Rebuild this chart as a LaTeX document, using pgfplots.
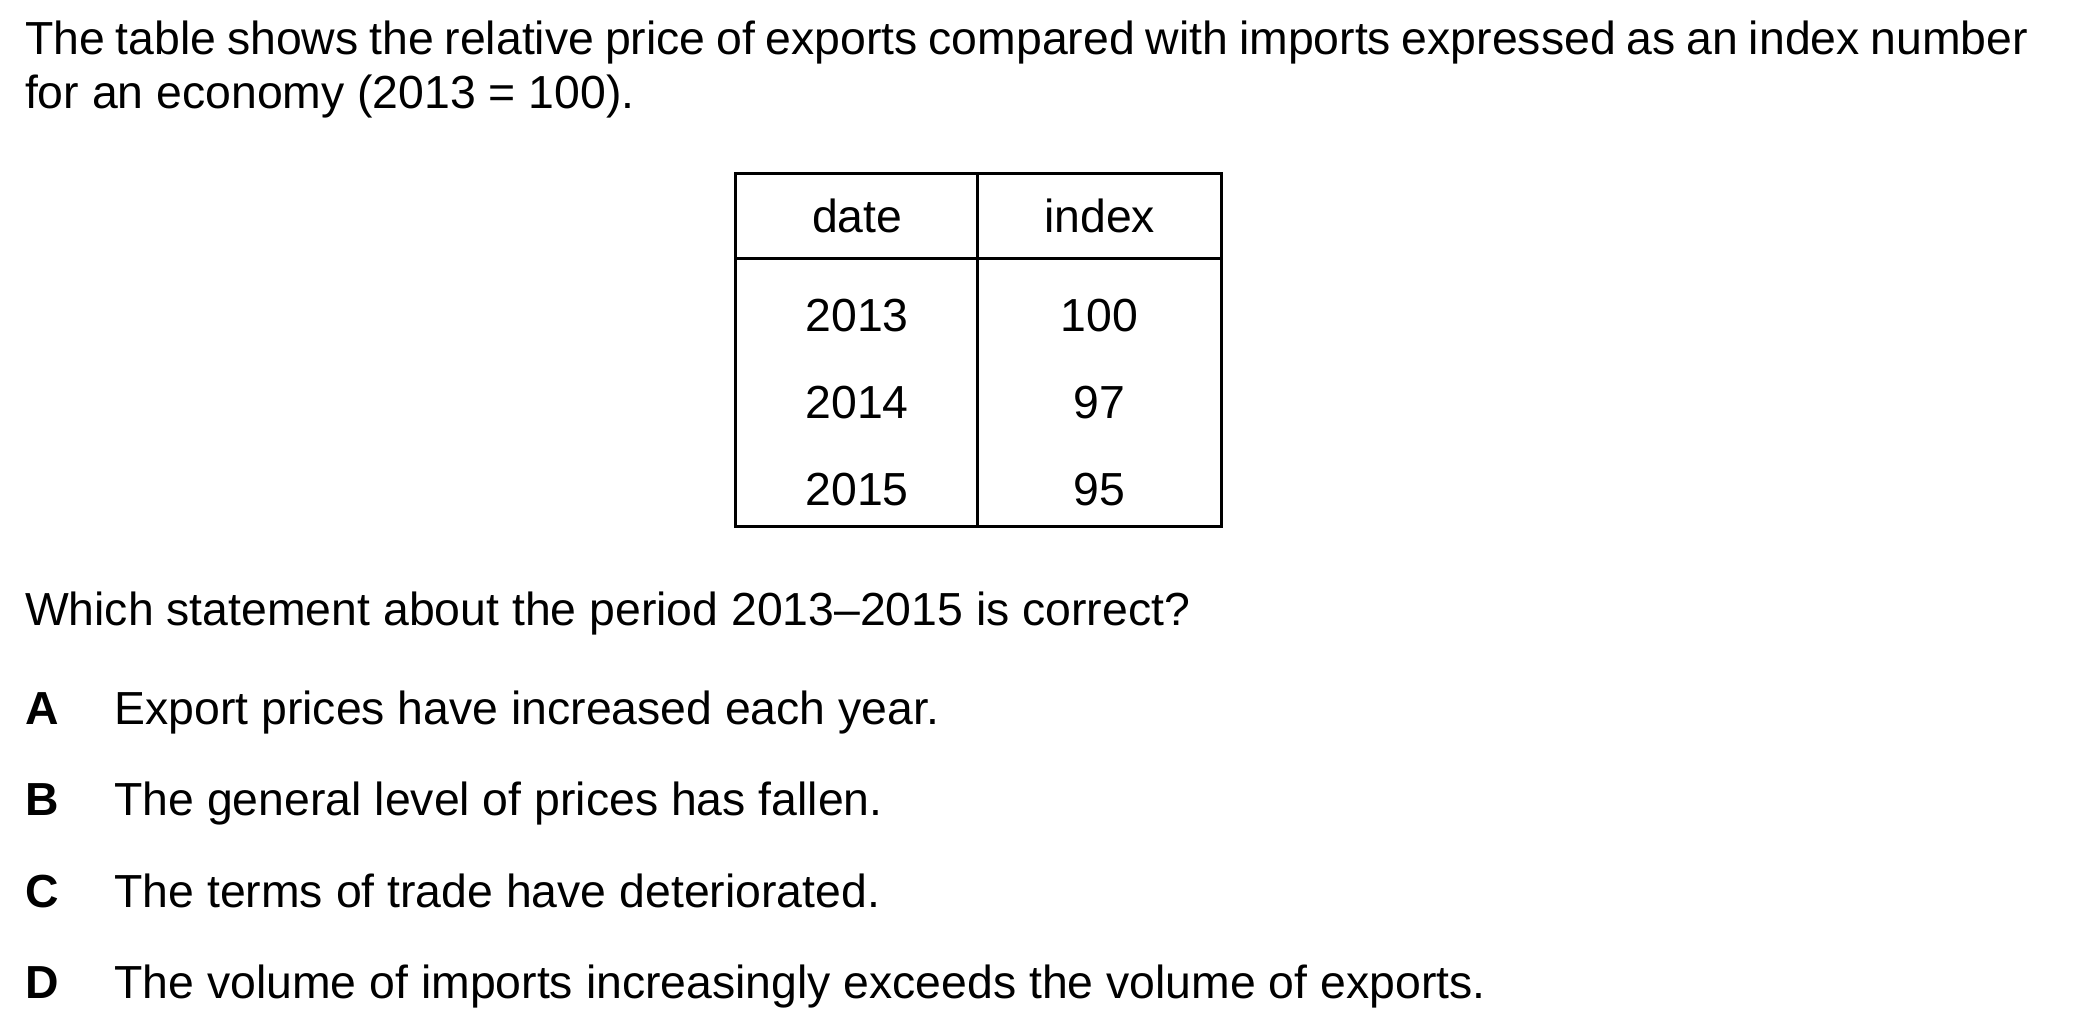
\documentclass[border=0pt]{standalone}
\usepackage{pgfplots}
\pgfplotsset{compat=1.18}
\usepackage{fontspec}
\setmainfont{Liberation Sans}
\begin{document}
\begin{tikzpicture}
\begin{axis}[scale only axis, width=21cm, height=10.175cm, xmin=0, xmax=1550, ymin=0, ymax=751, y dir=reverse, axis lines=none, clip=false]
\addplot[draw=none] coordinates {(0,0) (1550,751)};
\tikzset{every node/.style={font=\fontsize{13.2}{15.4}\selectfont, inner sep=0pt}}
\node[anchor=base west, text width=20.04cm, align=justify] at (axis cs:18,40) {The table shows the relative price of exports compared with imports expressed as an index number for an economy (2013 = 100).};
% table
\draw[line width=0.8pt] (axis cs:543,128) rectangle (axis cs:902,389);
\draw[line width=0.8pt] (axis cs:543,191) -- (axis cs:902,191);
\draw[line width=0.8pt] (axis cs:722,128) -- (axis cs:722,389);
\node[anchor=base] at (axis cs:633,172) {date};
\node[anchor=base] at (axis cs:812,172) {index};
\node[anchor=base] at (axis cs:633,245) {2013};
\node[anchor=base] at (axis cs:812,245) {100};
\node[anchor=base] at (axis cs:633,309) {2014};
\node[anchor=base] at (axis cs:812,309) {97};
\node[anchor=base] at (axis cs:633,373) {2015};
\node[anchor=base] at (axis cs:812,373) {95};
\node[anchor=base west] at (axis cs:18,462) {Which statement about the period 2013–2015 is correct?};
\node[anchor=base west, font=\fontsize{13.2}{15.4}\selectfont\bfseries] at (axis cs:18,535) {A};
\node[anchor=base west] at (axis cs:84,535) {Export prices have increased each year.};
\node[anchor=base west, font=\fontsize{13.2}{15.4}\selectfont\bfseries] at (axis cs:18,602) {B};
\node[anchor=base west] at (axis cs:84,602) {The general level of prices has fallen.};
\node[anchor=base west, font=\fontsize{13.2}{15.4}\selectfont\bfseries] at (axis cs:18,670) {C};
\node[anchor=base west] at (axis cs:84,670) {The terms of trade have deteriorated.};
\node[anchor=base west, font=\fontsize{13.2}{15.4}\selectfont\bfseries] at (axis cs:18,737) {D};
\node[anchor=base west] at (axis cs:84,737) {The volume of imports increasingly exceeds the volume of exports.};
\end{axis}
\end{tikzpicture}
\end{document}
